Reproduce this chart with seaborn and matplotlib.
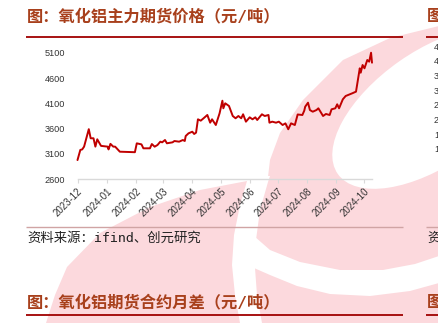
import matplotlib
matplotlib.use("Agg")
import matplotlib.pyplot as plt
import matplotlib.dates as mdates
from matplotlib.patches import Polygon, Ellipse
import seaborn as sns
import pandas as pd

# ---------------- data ----------------
dates = [
    "2023-12-01", "2023-12-04", "2023-12-06", "2023-12-08", "2023-12-13", "2023-12-15",
    "2023-12-18", "2023-12-20", "2023-12-22", "2023-12-26", "2024-01-02", "2024-01-03",
    "2024-01-05", "2024-01-08", "2024-01-10", "2024-01-15", "2024-01-31", "2024-02-02",
    "2024-02-07", "2024-02-09", "2024-02-16", "2024-02-18", "2024-02-21", "2024-02-24",
    "2024-02-27", "2024-02-29", "2024-03-03", "2024-03-05", "2024-03-11", "2024-03-13",
    "2024-03-18", "2024-03-22", "2024-03-24", "2024-03-25", "2024-03-28", "2024-04-01",
    "2024-04-03", "2024-04-05", "2024-04-07", "2024-04-10", "2024-04-13", "2024-04-17",
    "2024-04-20", "2024-04-22", "2024-04-26", "2024-04-30", "2024-05-03", "2024-05-04",
    "2024-05-06", "2024-05-10", "2024-05-14", "2024-05-17", "2024-05-20", "2024-05-23",
    "2024-05-25", "2024-05-28", "2024-06-01", "2024-06-04", "2024-06-07", "2024-06-09",
    "2024-06-14", "2024-06-17", "2024-06-21", "2024-06-22", "2024-06-25", "2024-06-29",
    "2024-07-02", "2024-07-06", "2024-07-09", "2024-07-12", "2024-07-15", "2024-07-19",
    "2024-07-22", "2024-07-27", "2024-07-29", "2024-07-30", "2024-08-02", "2024-08-04",
    "2024-08-07", "2024-08-11", "2024-08-13", "2024-08-18", "2024-08-21", "2024-08-25",
    "2024-08-27", "2024-08-31", "2024-09-02", "2024-09-04", "2024-09-08", "2024-09-11",
    "2024-09-18", "2024-09-22", "2024-09-24", "2024-09-26", "2024-09-27", "2024-09-29",
    "2024-10-01", "2024-10-04", "2024-10-06", "2024-10-08", "2024-10-09",
]
prices = [
    2980, 3180, 3190, 3245, 3590, 3410,
    3410, 3245, 3390, 3260, 3245, 3190,
    3300, 3245, 3245, 3145, 3135, 3310,
    3290, 3212, 3212, 3297, 3244, 3277,
    3343, 3330, 3376, 3311, 3330, 3356,
    3343, 3376, 3356, 3455, 3508, 3540,
    3495, 3521, 3785, 3758, 3805, 3870,
    3718, 3785, 3672, 3903, 4152, 4002,
    4101, 4048, 3850, 3805, 3850, 3805,
    3884, 3738, 3824, 3785, 3824, 3771,
    3884, 3850, 3870, 3718, 3738, 3718,
    3738, 3672, 3705, 3588, 3705, 3672,
    3880, 3870, 3955, 4034, 4113, 3968,
    3935, 3968, 4002, 3850, 3890, 3870,
    3982, 4002, 4081, 4002, 4180, 4245,
    4298, 4331, 4561, 4792, 4705, 4857,
    4792, 4956, 4923, 5100, 4903,
]
y_ticks = [2600, 3100, 3600, 4100, 4600, 5100]
title_text = "图：氧化铝主力期货价格（元/吨）"
source_text = "资料来源：ifind、创元研究"
next_title_text = "图：氧化铝期货合约月差（元/吨）"
side_ticks = ["4", "4", "3", "3", "2", "2", "1", "1"]

df = pd.DataFrame({"date": pd.to_datetime(dates), "price": prices})

# ---------------- style ----------------
sns.set_theme(style="white")
plt.rcParams["font.family"] = ["Noto Sans CJK SC", "DejaVu Sans"]
cjk_mono = ["DejaVu Sans Mono", "Noto Sans CJK SC"]

W, H = 439, 323
fig = plt.figure(figsize=(W / 100, H / 100), dpi=100)
fig.patch.set_facecolor("white")

# background layer in pixel coordinates
bg = fig.add_axes([0, 0, 1, 1], zorder=0)
bg.set_xlim(0, W)
bg.set_ylim(H, 0)
bg.axis("off")

pink = "#FCD9DD"
pink_shape = [(46, 323), (55, 295), (67, 267), (100, 233), (150, 207), (200, 190),
              (247, 181), (268, 177), (270, 160), (280, 133), (303, 100), (343, 60),
              (390, 38), (439, 26), (439, 323)]
bg.add_patch(Polygon(pink_shape, closed=True, facecolor=pink, edgecolor="none", zorder=0))
bg.add_patch(Ellipse((432, 108), 230, 114, angle=-35, facecolor="white", edgecolor="none", zorder=1))
stripe = [(246, 176), (247, 181), (240, 205), (234, 235), (232, 265), (235, 295), (240, 323),
          (262, 323), (257, 295), (255, 268), (256, 240), (260, 210), (268, 182), (270, 176)]
bg.add_patch(Polygon(stripe, closed=True, facecolor="white", edgecolor="none", zorder=1))
swoosh = [(254, 236), (270, 250), (300, 262), (340, 270), (383, 270), (415, 264), (439, 256),
          (439, 283), (410, 291), (370, 296), (330, 294), (297, 286), (270, 275), (254, 268)]
bg.add_patch(Polygon(swoosh, closed=True, facecolor="white", edgecolor="none", zorder=1))

title_color = "#A8401C"
rule_color = "#A00000"
# titles and rules
bg.text(27, 16, title_text, fontsize=11.7, fontweight="bold", color=title_color,
        va="center", ha="left", zorder=3, family=cjk_mono)
bg.plot([26, 403], [37.3, 37.3], color=rule_color, lw=1.3, zorder=3, solid_capstyle="butt")
bg.plot([26, 403], [227, 227], color="#D0A4A4", lw=1.0, zorder=3, solid_capstyle="butt")
bg.text(27, 238, source_text, fontsize=9.6, color="#222222", va="center", ha="left",
        zorder=3, family=cjk_mono)
bg.text(27, 302, next_title_text, fontsize=11.7, fontweight="bold", color=title_color,
        va="center", ha="left", zorder=3, family=cjk_mono)
bg.plot([26, 403], [315, 315], color=rule_color, lw=1.3, zorder=3, solid_capstyle="butt")

# partial neighbour panel on the right edge
bg.text(427, 16, "图", fontsize=11.7, fontweight="bold", color=title_color, va="center", ha="left", zorder=3)
bg.plot([426, 439], [37.3, 37.3], color=rule_color, lw=1.3, zorder=3, solid_capstyle="butt")
for i, t in enumerate(side_ticks):
    bg.text(434, 47 + i * 14.7, t, fontsize=6.5, color="#333333", va="center", ha="left",
            zorder=3, family="Liberation Sans")
bg.plot([426, 439], [227, 227], color="#D0A4A4", lw=1.0, zorder=3, solid_capstyle="butt")
bg.text(427, 238, "资", fontsize=9.6, color="#222222", va="center", ha="left", zorder=3)
bg.text(427, 302, "图", fontsize=11.7, fontweight="bold", color=title_color, va="center", ha="left", zorder=3)
bg.plot([426, 439], [315, 315], color=rule_color, lw=1.3, zorder=3, solid_capstyle="butt")

# ---------------- main chart ----------------
left, right = 77.5, 372
top, bottom = 52.7, 179.3
ax = fig.add_axes([left / W, 1 - bottom / H, (right - left) / W, (bottom - top) / H], zorder=2)
ax.set_facecolor("none")

sns.lineplot(data=df, x="date", y="price", ax=ax, color="#C00000", linewidth=1.4)
for ln in ax.lines:
    ln.set_clip_on(False)

ax.set_xlim(df["date"].min(), df["date"].max())
ax.set_ylim(y_ticks[0], y_ticks[-1])
ax.set_yticks(y_ticks)
ax.xaxis.set_major_locator(mdates.MonthLocator())
ax.xaxis.set_major_formatter(mdates.DateFormatter("%Y-%m"))
ax.set_xlabel("")
ax.set_ylabel("")

for s in ["top", "right", "left"]:
    ax.spines[s].set_visible(False)
ax.spines["bottom"].set_color("#D9D9D9")
ax.spines["bottom"].set_linewidth(1.0)

ax.tick_params(axis="y", length=0, pad=9, labelsize=6.6, labelcolor="#333333")
ax.tick_params(axis="x", length=3, width=0.8, color="#D9D9D9", pad=2, labelsize=7,
               labelcolor="#333333", bottom=True)
for lab in ax.get_yticklabels() + ax.get_xticklabels():
    lab.set_family("Liberation Sans")
for lab in ax.get_xticklabels():
    lab.set_rotation(45)
    lab.set_ha("right")
    lab.set_rotation_mode("anchor")

fig.savefig("out.png", dpi=100)
